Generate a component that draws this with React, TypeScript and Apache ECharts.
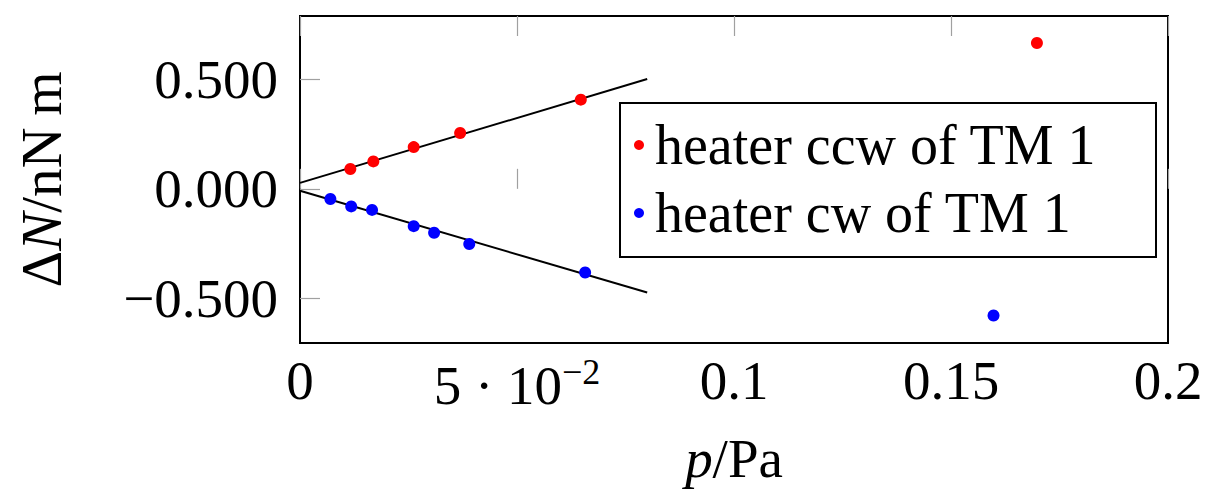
import React, { useEffect, useRef } from "react";
import * as echarts from "echarts";

// Data
const redName = "heater ccw of TM 1";
const blueName = "heater cw of TM 1";
const redX = [0.0116, 0.0169, 0.0262, 0.0369, 0.0647, 0.1698];
const redY = [0.09, 0.125, 0.19, 0.254, 0.406, 0.664];
const blueX = [0.007, 0.0118, 0.0166, 0.0262, 0.0309, 0.039, 0.0657, 0.1598];
const blueY = [-0.046, -0.08, -0.096, -0.17, -0.2, -0.251, -0.381, -0.577];
const fitX = [0, 0.08];
const redFitY = [0.027, 0.5];
const blueFitY = [-0.009, -0.472];
const yTicks = [-0.5, 0, 0.5];
const xTickLabels: Record<string, string> = {
  "0": "0",
  "0.05": "{m|5 · 10}{s|−2}",
  "0.1": "0.1",
  "0.15": "0.15",
  "0.2": "0.2",
};

const FONT = "Liberation Serif";

function pairs(xs: number[], ys: number[]) {
  return xs.map((x, i) => [x, ys[i]]);
}

export default function App() {
  const ref = useRef<HTMLDivElement>(null);
  useEffect(() => {
    if (!ref.current) return;
    const chart = echarts.init(ref.current, undefined, { renderer: "svg" });
    const tickStyle = { color: "#a0a0a0", width: 1.2 };
    chart.setOption({
      animation: false,
      backgroundColor: "#fff",
      textStyle: { fontFamily: FONT, color: "#000" },
      grid: {
        left: 300,
        right: 41,
        top: 16,
        bottom: 149,
        show: true,
        borderColor: "#000",
        borderWidth: 2,
        backgroundColor: "transparent",
      },
      legend: {
        orient: "vertical",
        left: 620,
        top: 103,
        data: [redName, blueName],
        padding: [14, 24, 16, 14],
        itemGap: 12,
        itemWidth: 10,
        itemHeight: 10,
        borderColor: "#000",
        borderWidth: 2,
        backgroundColor: "#fff",
        textStyle: {
          fontFamily: FONT,
          fontSize: 56,
          lineHeight: 55,
          color: "#000",
          width: 477,
          padding: [0, 0, 0, 6],
        },
      },
      xAxis: [
        {
          type: "value",
          min: 0,
          max: 0.2,
          interval: 0.05,
          position: "bottom",
          name: "{i|p}{r|/Pa}",
          nameLocation: "middle",
          nameGap: 88,
          nameTextStyle: {
            rich: {
              i: { fontFamily: FONT, fontSize: 55, fontStyle: "italic", color: "#000" },
              r: { fontFamily: FONT, fontSize: 55, color: "#000" },
            },
          },
          axisLine: { show: false },
          splitLine: { show: false },
          axisTick: { show: true, inside: true, length: 20, lineStyle: tickStyle },
          axisLabel: {
            showMinLabel: true,
            showMaxLabel: true,
            margin: 10,
            fontFamily: FONT,
            fontSize: 55,
            lineHeight: 55,
            color: "#000",
            formatter: (v: number) => xTickLabels[String(+v.toFixed(2))] ?? String(v),
            rich: {
              m: { fontFamily: FONT, fontSize: 55, lineHeight: 55, padding: [10, 0, 0, 0], color: "#000" },
              s: { fontFamily: FONT, fontSize: 36, lineHeight: 36, padding: [6, 0, 23, 0], color: "#000" },
            },
          },
        },
        {
          type: "value",
          min: 0,
          max: 0.2,
          interval: 0.05,
          position: "top",
          axisLine: { show: false },
          splitLine: { show: false },
          axisLabel: { show: false },
          axisTick: { show: true, inside: true, length: 20, lineStyle: tickStyle },
        },
      ],
      yAxis: {
        type: "value",
        min: -0.702,
        max: 0.787,
        name: "{r|Δ}{i|N}{r|/nN\u2009m}",
        nameLocation: "middle",
        nameGap: 230,
        nameRotate: 90,
        nameTextStyle: {
          rich: {
            i: { fontFamily: FONT, fontSize: 57, fontStyle: "italic", color: "#000" },
            r: { fontFamily: FONT, fontSize: 57, color: "#000" },
          },
        },
        axisLine: { show: false },
        splitLine: { show: false },
        axisTick: { show: true, inside: true, length: 20, lineStyle: tickStyle, customValues: yTicks },
        axisLabel: {
          customValues: yTicks,
          margin: 22,
          fontFamily: FONT,
          fontSize: 55,
          color: "#000",
          formatter: (v: number) => (v < 0 ? "−" : "") + Math.abs(v).toFixed(3),
        },
      },
      series: [
        {
          type: "line",
          data: pairs(fitX, redFitY),
          showSymbol: false,
          symbol: "none",
          lineStyle: { color: "#000", width: 2 },
          z: 1,
          silent: true,
        },
        {
          type: "line",
          data: pairs(fitX, blueFitY),
          showSymbol: false,
          symbol: "none",
          lineStyle: { color: "#000", width: 2 },
          z: 1,
          silent: true,
        },
        {
          name: redName,
          type: "scatter",
          data: pairs(redX, redY),
          symbol: "circle",
          symbolSize: 12,
          itemStyle: { color: "#ff0000", opacity: 1 },
          z: 3,
        },
        {
          name: blueName,
          type: "scatter",
          data: pairs(blueX, blueY),
          symbol: "circle",
          symbolSize: 12,
          itemStyle: { color: "#0000ff", opacity: 1 },
          z: 3,
        },
      ],
    });
    return () => chart.dispose();
  }, []);
  return (
    <div
      ref={ref}
      style={{ position: "absolute", left: 0, top: 0, width: 1209, height: 492 }}
    />
  );
}
